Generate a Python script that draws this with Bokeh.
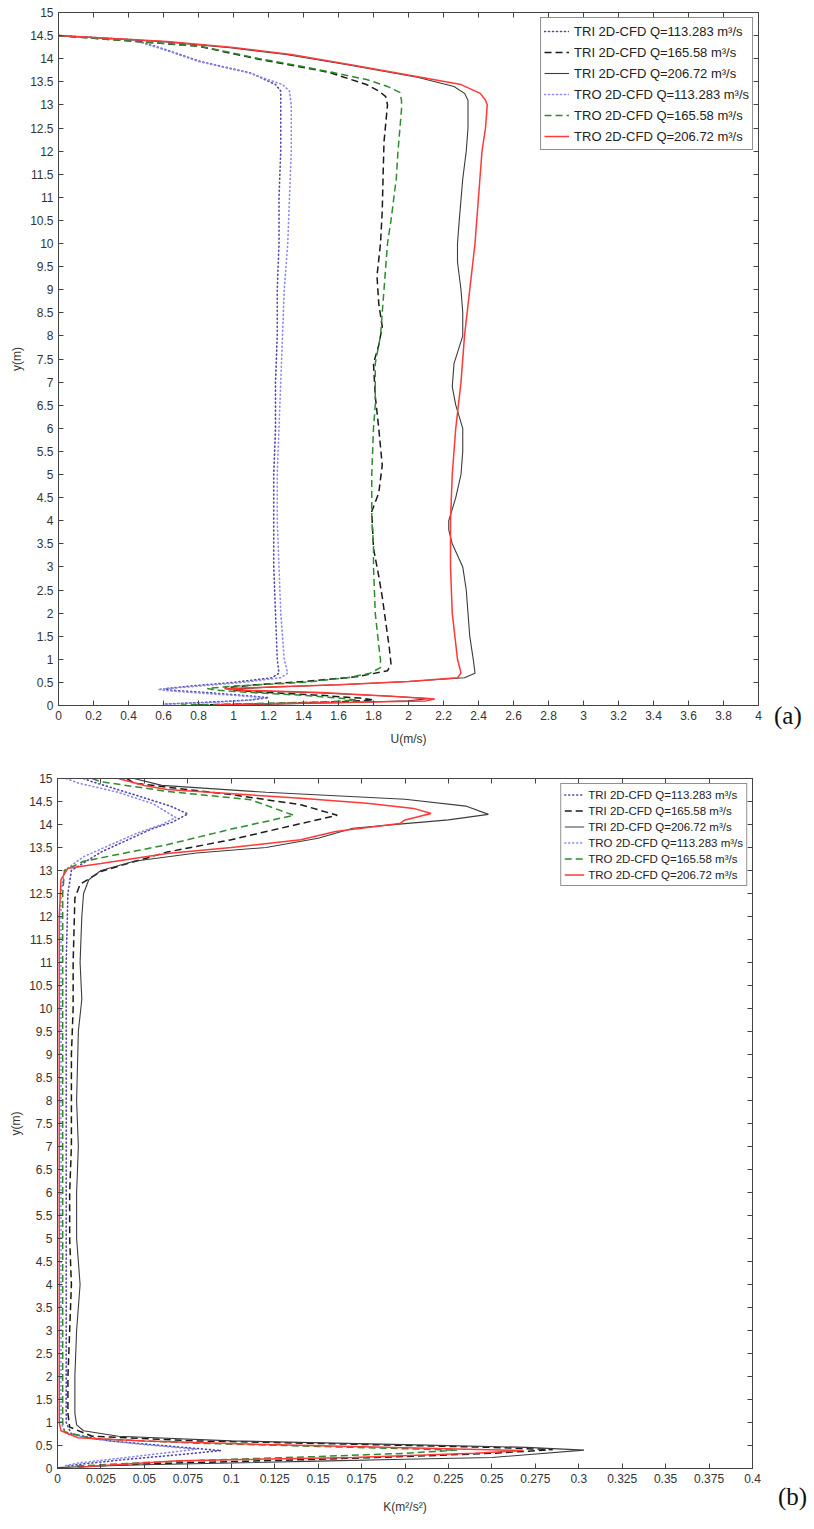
from bokeh.plotting import figure
from bokeh.models import LinearAxis, FixedTicker, Legend, LegendItem, Div
from bokeh.layouts import column, row
from bokeh.embed import file_html
from bokeh.resources import INLINE

# ---------------- labels ----------------
LABELS = [
    "TRI 2D-CFD Q=113.283 m³/s",
    "TRI 2D-CFD Q=165.58 m³/s",
    "TRI 2D-CFD Q=206.72 m³/s",
    "TRO 2D-CFD Q=113.283 m³/s",
    "TRO 2D-CFD Q=165.58 m³/s",
    "TRO 2D-CFD Q=206.72 m³/s",
]
PANEL_TAGS = ["(a)", "(b)"]

U_TICKS = [0, 0.2, 0.4, 0.6, 0.8, 1, 1.2, 1.4, 1.6, 1.8, 2, 2.2, 2.4, 2.6, 2.8, 3,
           3.2, 3.4, 3.6, 3.8, 4]
K_TICKS = [0, 0.025, 0.05, 0.075, 0.1, 0.125, 0.15, 0.175, 0.2, 0.225, 0.25, 0.275,
           0.3, 0.325, 0.35, 0.375, 0.4]
Y_TICKS = [0, 0.5, 1, 1.5, 2, 2.5, 3, 3.5, 4, 4.5, 5, 5.5, 6, 6.5, 7, 7.5, 8, 8.5, 9,
           9.5, 10, 10.5, 11, 11.5, 12, 12.5, 13, 13.5, 14, 14.5, 15]

# ---------------- panel (a): U profiles ----------------
A_TRI113_Y = [14.5, 14.41, 14.2, 13.94, 13.69, 13.44, 13.3, 13.0, 12.0, 11.0, 10.0, 9.0, 8.0,
              7.0, 6.0, 5.0, 4.0, 3.0, 2.0, 1.0, 0.7, 0.6, 0.5, 0.42, 0.36, 0.33, 0.28, 0.22,
              0.17, 0.12, 0.07, 0.03]
A_TRI113_U = [0, 0.43, 0.61, 0.81, 1.10, 1.24, 1.27, 1.27, 1.27, 1.26, 1.26, 1.25, 1.25,
              1.24, 1.24, 1.23, 1.23, 1.23, 1.24, 1.25, 1.26, 1.22, 1.0, 0.75, 0.6, 0.65, 0.85,
              1.05, 1.2, 1.1, 0.85, 0.6]

A_TRO113_Y = [14.5, 14.41, 14.2, 13.94, 13.69, 13.44, 13.3, 13.0, 12.0, 11.0, 10.0, 9.0, 8.0,
              7.0, 6.0, 5.0, 4.0, 3.0, 2.0, 1.0, 0.7, 0.6, 0.5, 0.42, 0.35, 0.32, 0.27, 0.22,
              0.17, 0.12, 0.07, 0.03]
A_TRO113_U = [0, 0.42, 0.60, 0.80, 1.09, 1.28, 1.32, 1.33, 1.33, 1.32, 1.31, 1.29, 1.28,
              1.27, 1.26, 1.25, 1.25, 1.26, 1.27, 1.29, 1.31, 1.27, 1.05, 0.8, 0.57, 0.62, 0.8,
              1.0, 1.17, 1.1, 0.9, 0.6]

A_TRI165_Y = [14.5, 14.27, 14.0, 13.84, 13.7, 13.44, 13.3, 13.18, 13.0, 12.2, 11.5, 10.7, 10.0,
              9.3, 8.7, 8.2, 7.8, 7.4, 6.7, 6.0, 5.2, 4.6, 4.2, 3.4, 2.8, 2.35, 1.8, 1.26, 0.9,
              0.75, 0.62, 0.52, 0.44, 0.38, 0.33, 0.28, 0.22, 0.16, 0.12, 0.08, 0.04, 0.01]
A_TRI165_U = [0, 0.8, 1.13, 1.36, 1.55, 1.76, 1.83, 1.87, 1.88, 1.86, 1.855, 1.85, 1.84,
              1.82, 1.83, 1.85, 1.83, 1.80, 1.81, 1.83, 1.85, 1.83, 1.79, 1.80, 1.83, 1.85, 1.87,
              1.89, 1.90, 1.88, 1.7, 1.4, 1.1, 0.95, 1.0, 1.2, 1.5, 1.72, 1.8, 1.6, 1.2, 0.8]

A_TRO165_Y = [14.5, 14.27, 14.0, 13.84, 13.7, 13.55, 13.4, 13.27, 13.1, 12.9, 12.0, 11.4, 10.5,
              10.0, 9.0, 8.5, 8.0, 7.4, 6.5, 6.0, 5.0, 4.5, 4.0, 3.5, 3.0, 2.0, 1.3, 1.0, 0.82,
              0.7, 0.6, 0.5, 0.42, 0.37, 0.33, 0.28, 0.22, 0.16, 0.12, 0.08, 0.04, 0.01]
A_TRO165_U = [0, 0.81, 1.15, 1.38, 1.57, 1.76, 1.88, 1.95, 1.96, 1.96, 1.94, 1.93, 1.90,
              1.88, 1.86, 1.85, 1.84, 1.81, 1.81, 1.80, 1.79, 1.79, 1.79, 1.80, 1.80, 1.81, 1.83,
              1.84, 1.84, 1.78, 1.65, 1.4, 1.0, 0.85, 0.9, 1.1, 1.4, 1.6, 1.7, 1.55, 1.1, 0.7]

A_TRI206_Y = [14.5, 14.37, 14.24, 14.09, 13.87, 13.6, 13.4, 13.25, 13.1, 12.5, 12.0, 11.4, 10.5,
              10.0, 9.6, 9.0, 8.5, 8.0, 7.4, 6.9, 6.5, 6.0, 5.5, 5.0, 4.5, 4.0, 3.8, 3.5, 3.0,
              2.5, 2.0, 1.5, 1.0, 0.7, 0.6, 0.52, 0.45, 0.4, 0.36, 0.32, 0.27, 0.2, 0.15, 0.1,
              0.06, 0.03, 0.01]
A_TRI206_U = [0, 0.6, 0.98, 1.3, 1.65, 2.05, 2.26, 2.32, 2.34, 2.34, 2.33, 2.31, 2.29,
              2.28, 2.28, 2.30, 2.31, 2.31, 2.26, 2.25, 2.27, 2.31, 2.31, 2.30, 2.27, 2.23,
              2.23, 2.25, 2.31, 2.33, 2.34, 2.35, 2.37, 2.38, 2.32, 2.0, 1.6, 1.25, 1.0, 1.1,
              1.5, 1.9, 2.12, 2.0, 1.6, 1.2, 0.95]

A_TRO206_Y = [14.5, 14.37, 14.24, 14.09, 13.87, 13.6, 13.44, 13.25, 13.1, 13.0, 12.5, 12.0,
              11.0, 10.0, 9.0, 8.0, 7.0, 6.0, 5.0, 4.0, 3.0, 2.0, 1.0, 0.7, 0.6, 0.52, 0.45,
              0.4, 0.36, 0.33, 0.28, 0.2, 0.14, 0.1, 0.07, 0.04, 0.01]
A_TRO206_U = [0, 0.62, 1.0, 1.33, 1.67, 2.07, 2.3, 2.41, 2.44, 2.45, 2.44, 2.42,
              2.40, 2.38, 2.35, 2.32, 2.30, 2.27, 2.25, 2.24, 2.24, 2.25, 2.28, 2.30, 2.28,
              2.0, 1.6, 1.2, 0.95, 1.05, 1.5, 1.9, 2.15, 2.1, 1.7, 1.2, 0.9]

# ---------------- panel (b): K profiles ----------------
B_TRI113_Y = [15.0, 14.93, 14.65, 14.4, 14.23, 14.05, 13.9, 13.4, 13.0, 12.5, 11.0, 9.0, 7.0,
              5.0, 3.0, 1.0, 0.75, 0.6, 0.5, 0.39, 0.3, 0.2, 0.1, 0.05]
B_TRI113_K = [0.015, 0.02, 0.044, 0.065, 0.075, 0.066, 0.054, 0.025, 0.008, 0.006, 0.005,
              0.005, 0.005, 0.005, 0.005, 0.005, 0.008, 0.03, 0.06, 0.094, 0.07, 0.04, 0.015,
              0.005]

B_TRO113_Y = [15.0, 14.9, 14.7, 14.45, 14.15, 14.0, 13.8, 13.3, 13.0, 12.5, 11.0, 9.0, 7.0,
              5.0, 3.0, 1.0, 0.75, 0.62, 0.52, 0.42, 0.33, 0.22, 0.12, 0.05]
B_TRO113_K = [0.005, 0.012, 0.035, 0.055, 0.068, 0.06, 0.045, 0.015, 0.004, 0.002, 0.002,
              0.002, 0.002, 0.002, 0.002, 0.002, 0.005, 0.025, 0.05, 0.08, 0.06, 0.035, 0.012,
              0.003]

B_TRI165_Y = [15.0, 14.9, 14.78, 14.65, 14.43, 14.2, 14.02, 13.67, 13.4, 12.98, 12.7, 12.4,
              11.0, 10.0, 9.0, 8.0, 7.0, 6.0, 5.0, 4.0, 3.0, 2.0, 1.2, 0.9, 0.7, 0.6, 0.52,
              0.46, 0.41, 0.33, 0.26, 0.2, 0.15, 0.1, 0.04]
B_TRI165_K = [0.04, 0.044, 0.07, 0.1, 0.14, 0.161, 0.14, 0.1, 0.063, 0.025, 0.013, 0.01,
              0.009, 0.009, 0.008, 0.008, 0.008, 0.007, 0.007, 0.008, 0.007, 0.006, 0.006,
              0.007, 0.02, 0.08, 0.18, 0.25, 0.285, 0.25, 0.2, 0.15, 0.1, 0.05, 0.01]

B_TRO165_Y = [15.0, 14.93, 14.72, 14.54, 14.2, 13.9, 13.56, 13.2, 13.0, 12.5, 9.0, 5.0, 1.0,
              0.8, 0.65, 0.55, 0.48, 0.4, 0.33, 0.26, 0.2, 0.13, 0.05]
B_TRO165_K = [0.02, 0.025, 0.063, 0.111, 0.136, 0.1, 0.063, 0.015, 0.004, 0.003, 0.003,
              0.003, 0.003, 0.004, 0.02, 0.08, 0.15, 0.23, 0.2, 0.15, 0.1, 0.05, 0.01]

B_TRI206_Y = [15.0, 14.85, 14.7, 14.55, 14.4, 14.22, 14.1, 14.02, 13.92, 13.7, 13.5, 13.38,
              13.2, 13.0, 12.8, 12.5, 12.0, 11.0, 10.2, 9.5, 8.0, 7.0, 6.0, 5.0, 4.0, 3.5, 3.0,
              2.0, 1.2, 0.95, 0.82, 0.7, 0.6, 0.52, 0.46, 0.4, 0.3, 0.24, 0.2, 0.16, 0.12,
              0.08, 0.05, 0.02]
B_TRI206_K = [0.044, 0.06, 0.12, 0.2, 0.235, 0.248, 0.225, 0.2, 0.17, 0.15, 0.12, 0.08,
              0.044, 0.025, 0.018, 0.015, 0.014, 0.013, 0.014, 0.012, 0.011, 0.012, 0.011,
              0.011, 0.013, 0.012, 0.011, 0.01, 0.01, 0.011, 0.015, 0.035, 0.1, 0.2, 0.27,
              0.303, 0.27, 0.25, 0.2, 0.15, 0.1, 0.05, 0.02, 0.0]

B_TRO206_Y = [15.0, 14.85, 14.76, 14.57, 14.46, 14.35, 14.24, 14.1, 14.02, 13.85, 13.67,
              13.5, 13.37, 13.15, 13.05, 12.8, 12.0, 9.0, 6.0, 3.0, 1.0, 0.82, 0.67, 0.6,
              0.52, 0.45, 0.39, 0.33, 0.24, 0.17, 0.1, 0.05, 0.02]
B_TRO206_K = [0.035, 0.05, 0.063, 0.14, 0.178, 0.205, 0.215, 0.2, 0.197, 0.16, 0.14, 0.1,
              0.063, 0.025, 0.006, 0.002, 0.001, 0.001, 0.001, 0.001, 0.001, 0.002, 0.0115,
              0.05, 0.12, 0.2, 0.268, 0.24, 0.17, 0.07, 0.04, 0.02, 0.012]

# ---------------- styles ----------------
COLORS = ["#5046a8", "#1a1a1a", "#3c3c3c", "#8a8af0", "#2e8b2e", "#ff3838"]
DASHES = ["1 3", "7 4", "solid", "1 3", "7 4", "solid"]
CAPS = ["round", "butt", "butt", "round", "butt", "butt"]
WIDTHS = [1.6, 1.5, 1.1, 1.6, 1.5, 1.5]

FONT = "Liberation Sans"
FIG_W = 770


def make_fig(h, xr, xticks, xlabel, borders, xlab_standoff):
    left, right, top, bottom = borders
    p = figure(width=FIG_W, height=h, x_range=xr, y_range=(0, 15),
               output_backend="svg", toolbar_location=None,
               min_border_left=left, min_border_right=right,
               min_border_top=top, min_border_bottom=bottom)
    p.grid.visible = False
    p.outline_line_color = "#444444"
    p.outline_line_width = 1
    p.background_fill_color = "white"
    p.border_fill_color = "white"

    for ax, ticks in ((p.xaxis[0], xticks), (p.yaxis[0], Y_TICKS)):
        ax.ticker = FixedTicker(ticks=ticks)
        ax.major_label_overrides = {t: "%g" % t for t in ticks}
        ax.major_tick_in = 5
        ax.major_tick_out = 0
        ax.minor_tick_line_color = None
        ax.axis_line_color = "#444444"
        ax.major_tick_line_color = "#444444"
        ax.major_label_text_font = FONT
        ax.major_label_text_font_size = "12px"
        ax.major_label_text_color = "#333333"
        ax.axis_label_text_font = FONT
        ax.axis_label_text_font_size = "12px"
        ax.axis_label_text_font_style = "normal"
        ax.axis_label_text_color = "#333333"
        ax.major_label_standoff = 5
    p.xaxis.axis_label = xlabel
    p.xaxis.axis_label_standoff = xlab_standoff
    p.yaxis.axis_label = "y(m)"
    p.yaxis.axis_label_standoff = 3

    # tick-only box axes (top and right): the ticks are drawn as unlabeled minor ticks
    for loc, ticks in (("above", xticks), ("right", Y_TICKS)):
        ax = LinearAxis(ticker=FixedTicker(ticks=[], minor_ticks=ticks),
                        major_label_text_font_size="1px",
                        major_label_standoff=0, major_tick_in=0, major_tick_out=0,
                        minor_tick_in=5, minor_tick_out=0,
                        minor_tick_line_color="#444444", axis_line_color="#444444",
                        major_tick_line_color=None)
        p.add_layout(ax, loc)
    return p


def add_lines(p, xs, ys):
    rs = []
    for x, y, c, d, cap, w in zip(xs, ys, COLORS, DASHES, CAPS, WIDTHS):
        r = p.line(x, y, line_color=c, line_dash=d, line_cap=cap, line_width=w)
        rs.append(r)
    return rs


def add_legend(p, rs, font_size, glyph_w, glyph_h, margin, standoff):
    items = [LegendItem(label=l, renderers=[r]) for l, r in zip(LABELS, rs)]
    lg = Legend(items=items, location="top_right", margin=margin, padding=3,
                spacing=1, glyph_width=glyph_w, glyph_height=glyph_h,
                label_standoff=standoff, label_text_font=FONT,
                label_text_font_size=font_size, label_text_color="#222222",
                border_line_color="#222222", border_line_width=1,
                background_fill_color="white", background_fill_alpha=1.0,
                label_height=glyph_h)
    p.add_layout(lg, "center")


def tag_div(text, h, top, left):
    html = ('<div style="margin-top:%dpx; margin-left:%dpx; '
            'font-family:\'Liberation Serif\', serif; font-size:25px; '
            'line-height:28px; color:#111;">%s</div>' % (top, left, text))
    return Div(text=html, width=42, height=h, margin=0)


# panel a
pa = make_fig(765, (0, 4), U_TICKS, "U(m/s)", (58, FIG_W - 758, 12, 60), 9)
ra = add_lines(pa,
               [A_TRI113_U, A_TRI165_U, A_TRI206_U, A_TRO113_U, A_TRO165_U, A_TRO206_U],
               [A_TRI113_Y, A_TRI165_Y, A_TRI206_Y, A_TRO113_Y, A_TRO165_Y, A_TRO206_Y])
add_legend(pa, ra, "13px", 25, 20, 5, 5)

# panel b
pb = make_fig(762, (0, 0.4), K_TICKS, "K(m²/s²)", (57, FIG_W - 752, 13, 59), 14)
rb = add_lines(pb,
               [B_TRI113_K, B_TRI165_K, B_TRI206_K, B_TRO113_K, B_TRO165_K, B_TRO206_K],
               [B_TRI113_Y, B_TRI165_Y, B_TRI206_Y, B_TRO113_Y, B_TRO165_Y, B_TRO206_Y])
add_legend(pb, rb, "11.5px", 20, 15, 5, 4)

layout = column(row(pa, tag_div(PANEL_TAGS[0], 765, 702, 4), spacing=0),
                row(pb, tag_div(PANEL_TAGS[1], 762, 718, 8), spacing=0),
                spacing=0)
open("out.html", "w").write(file_html(layout, INLINE))
